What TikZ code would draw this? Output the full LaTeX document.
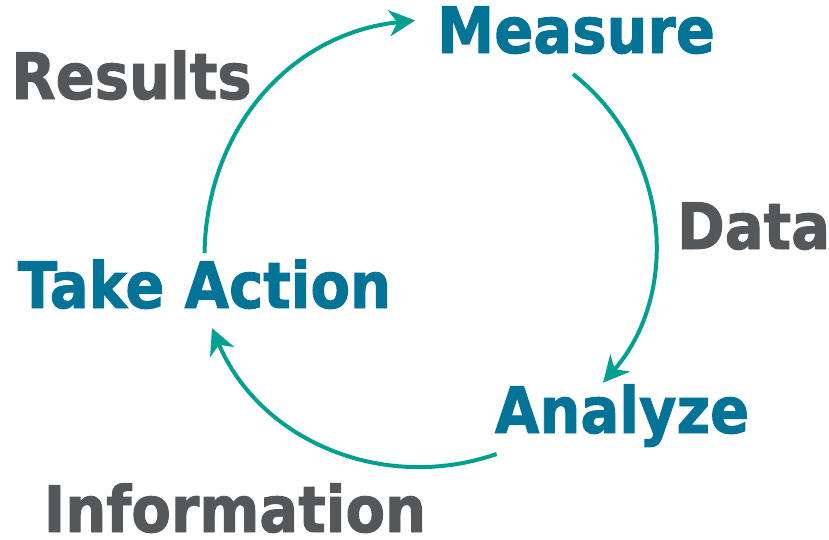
\documentclass[tikz,border=0pt]{standalone}
\usepackage{fontspec}
\setmainfont{DejaVu Sans}[FakeStretch = 0.9, BoldFeatures = {FakeBold = 1.5}]
\usetikzlibrary{arrows.meta}
\definecolor{phaseblue}{RGB}{0,115,150}
\definecolor{labelgray}{RGB}{84,88,90}
\definecolor{cycleteal}{RGB}{0,160,145}
\newcommand{\phase}[1]{
	\node[text = phaseblue, font = \fontsize{64}{70}\selectfont\bfseries, inner sep = 0, anchor = base] (#1)
}
\newcommand{\flow}[1]{
	\node[text = labelgray, font = \fontsize{64}{70}\selectfont\bfseries, inner sep = 0, anchor = base] (#1)
}
\tikzset{cycle/.style = {draw = cycleteal, line width = 4pt, -{Stealth[length = 26pt, width = 26pt, inset = 8pt]}}}

\begin{document}
\begin{tikzpicture}[x = 1pt, y = 1pt]

		\useasboundingbox (0,0) rectangle (829,-539);

		\phase{meas} at (576,-53) {Measure};
		\phase{ana} at (622,-433) {Analyze};
		\phase{act} at (204.5,-308) {Take Action};

		\flow{res} at (131.5,-99) {Results};
		\flow{data} at (753.5,-249) {Data};
		\flow{info} at (235,-532) {Information};

		\draw[cycle] ([yshift = 6pt]act.north) to[out = 89, in = 186, looseness = 1.02] ([xshift = -21.6pt, yshift = 9.7pt]meas.west);
		\draw[cycle] ([xshift = -3pt, yshift = -20pt]meas.south) to[out = -38, in = 49] ([xshift = -19pt, yshift = 1.4pt]ana.north);
		\draw[cycle] ([xshift = 2pt, yshift = -7pt]ana.south west) to[out = 199, in = -67] ([xshift = 7.5pt, yshift = -19pt]act.south);
	\end{tikzpicture}
\end{document}
